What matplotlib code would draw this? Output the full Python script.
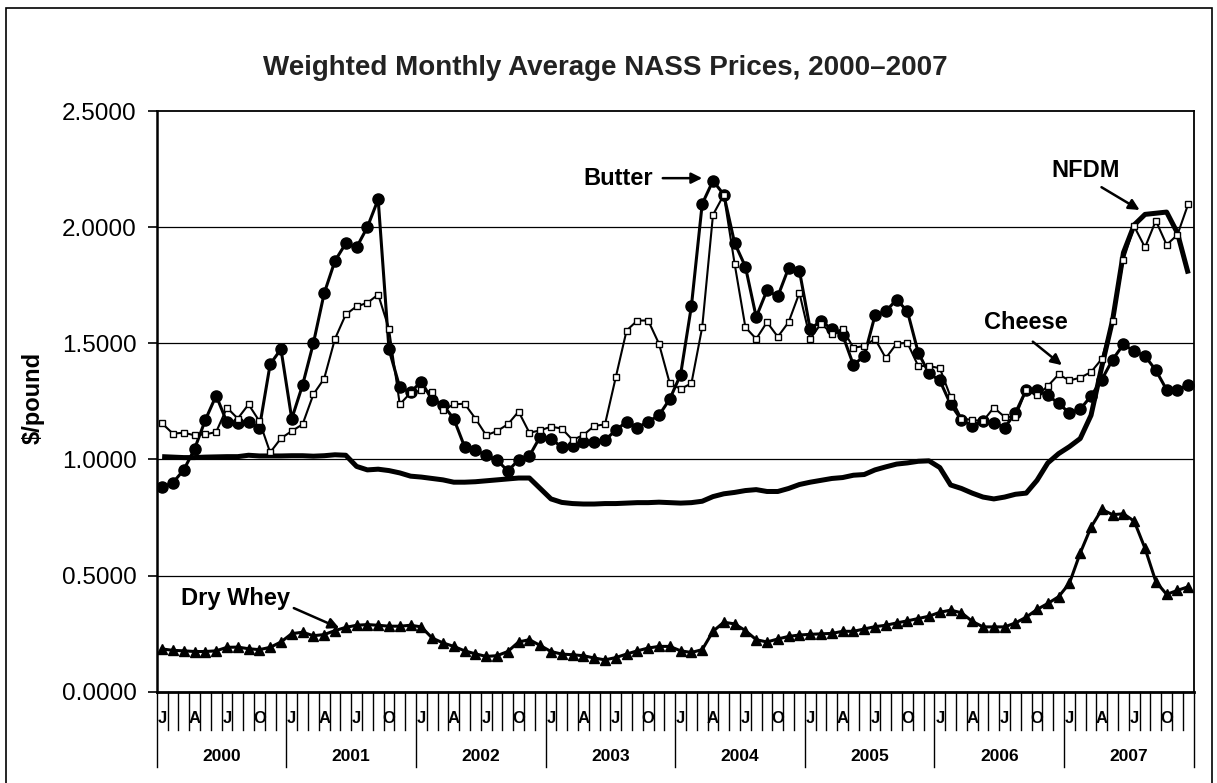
import matplotlib
matplotlib.use("Agg")
import matplotlib.pyplot as plt
from matplotlib.patches import Rectangle
import numpy as np

plt.rcParams['font.family'] = ['Liberation Sans', 'DejaVu Sans']

# monthly data, Jan 2000 - Dec 2007 ($/pound)
years = ['2000', '2001', '2002', '2003', '2004', '2005', '2006', '2007']
month_labels = ['J', '', '', 'A', '', '', 'J', '', '', 'O', '', '']

butter = [0.88, 0.90, 0.955, 1.045, 1.17, 1.275, 1.16, 1.155, 1.16, 1.135, 1.41, 1.475,
          1.175, 1.32, 1.50, 1.715, 1.855, 1.93, 1.913, 2.00, 2.12, 1.475, 1.31, 1.29,
          1.335, 1.255, 1.235, 1.175, 1.055, 1.04, 1.018, 0.998, 0.95, 0.998, 1.015, 1.098,
          1.09, 1.052, 1.058, 1.075, 1.075, 1.084, 1.125, 1.163, 1.137, 1.163, 1.19, 1.26,
          1.365, 1.66, 2.10, 2.20, 2.14, 1.932, 1.83, 1.613, 1.728, 1.702, 1.824, 1.813,
          1.56, 1.598, 1.56, 1.536, 1.407, 1.445, 1.62, 1.638, 1.688, 1.638, 1.46, 1.37,
          1.34, 1.237, 1.17, 1.144, 1.165, 1.158, 1.137, 1.20, 1.30, 1.297, 1.276, 1.241,
          1.20, 1.216, 1.273, 1.344, 1.43, 1.495, 1.466, 1.445, 1.384, 1.30, 1.30, 1.32]

cheese = [1.155, 1.111, 1.115, 1.104, 1.108, 1.118, 1.223, 1.176, 1.237, 1.165, 1.030, 1.091,
          1.122, 1.151, 1.280, 1.348, 1.519, 1.624, 1.659, 1.674, 1.710, 1.562, 1.237, 1.287,
          1.297, 1.292, 1.211, 1.237, 1.240, 1.176, 1.104, 1.122, 1.151, 1.206, 1.115, 1.125,
          1.141, 1.133, 1.084, 1.105, 1.144, 1.151, 1.354, 1.555, 1.598, 1.598, 1.498, 1.327,
          1.304, 1.327, 1.569, 2.053, 2.139, 1.843, 1.569, 1.519, 1.591, 1.528, 1.591, 1.717,
          1.519, 1.585, 1.542, 1.562, 1.481, 1.488, 1.519, 1.436, 1.499, 1.502, 1.402, 1.402,
          1.393, 1.269, 1.176, 1.170, 1.165, 1.223, 1.183, 1.183, 1.30, 1.276, 1.316, 1.366,
          1.340, 1.352, 1.376, 1.433, 1.598, 1.860, 2.003, 1.913, 2.028, 1.924, 1.967, 2.100]

nfdm = [1.012, 1.010, 1.008, 1.008, 1.010, 1.011, 1.012, 1.012, 1.018, 1.015, 1.015, 1.015,
        1.016, 1.016, 1.014, 1.016, 1.020, 1.018, 0.970, 0.955, 0.958, 0.952, 0.942, 0.928,
        0.924, 0.918, 0.912, 0.902, 0.902, 0.904, 0.908, 0.912, 0.916, 0.920, 0.920, 0.875,
        0.830, 0.815, 0.810, 0.808, 0.808, 0.810, 0.810, 0.812, 0.814, 0.814, 0.816, 0.814,
        0.812, 0.814, 0.820, 0.840, 0.852, 0.858, 0.866, 0.870, 0.862, 0.862, 0.875, 0.892,
        0.902, 0.910, 0.918, 0.922, 0.932, 0.935, 0.955, 0.968, 0.980, 0.985, 0.992, 0.994,
        0.965, 0.890, 0.875, 0.855, 0.838, 0.830, 0.838, 0.850, 0.855, 0.910, 0.985, 1.025,
        1.055, 1.090, 1.190, 1.400, 1.600, 1.890, 2.010, 2.055, 2.060, 2.065, 1.975, 1.800]

whey = [0.184, 0.178, 0.176, 0.173, 0.173, 0.176, 0.191, 0.192, 0.185, 0.181, 0.191, 0.214,
        0.250, 0.256, 0.241, 0.246, 0.263, 0.277, 0.286, 0.289, 0.286, 0.282, 0.282, 0.286,
        0.279, 0.231, 0.210, 0.195, 0.176, 0.163, 0.152, 0.155, 0.173, 0.214, 0.224, 0.199,
        0.173, 0.162, 0.159, 0.155, 0.145, 0.137, 0.147, 0.162, 0.176, 0.188, 0.195, 0.195,
        0.176, 0.169, 0.181, 0.260, 0.299, 0.292, 0.263, 0.224, 0.214, 0.227, 0.238, 0.244,
        0.247, 0.249, 0.251, 0.260, 0.260, 0.270, 0.280, 0.286, 0.296, 0.305, 0.315, 0.325,
        0.342, 0.351, 0.340, 0.303, 0.279, 0.279, 0.279, 0.296, 0.321, 0.354, 0.380, 0.409,
        0.467, 0.597, 0.708, 0.785, 0.762, 0.766, 0.734, 0.617, 0.474, 0.419, 0.436, 0.452]

n = len(butter)
x = np.arange(n) + 0.5

fig = plt.figure(figsize=(12.17, 7.83), dpi=100)
ax = fig.add_axes([0.1288, 0.1166, 0.852, 0.7416])

ax.set_xlim(0, n)
ax.set_ylim(0, 2.5)
ax.set_yticks(np.arange(0, 2.51, 0.5))
ax.yaxis.set_major_formatter(matplotlib.ticker.FormatStrFormatter('%.4f'))
ax.tick_params(axis='y', direction='out', length=6.5, width=1.2, pad=8, labelsize=17.5)
ax.set_xticks([])
for y in [0.5, 1.0, 1.5, 2.0]:
    ax.axhline(y, color='black', lw=0.9, zorder=1)
for s in ax.spines.values():
    s.set_linewidth(1.3)
ax.spines['left'].set_linewidth(1.8)
ax.spines['bottom'].set_linewidth(2.0)

# series
ax.plot(x, nfdm, color='black', lw=3.6, solid_capstyle='butt', zorder=3)
ax.plot(x, whey, color='black', lw=2.2, marker='^', ms=6.5, zorder=4)
ax.plot(x, butter, color='black', lw=2.2, marker='o', ms=8, zorder=5)
ax.plot(x, cheese, color='black', lw=1.5, marker='s', ms=4.8, mfc='white', mec='black',
        mew=1.0, zorder=6)

# month / year axis drawn below the plot
trans = ax.get_xaxis_transform()
for i in range(n + 1):
    low = -0.130 if i % 12 == 0 else -0.066
    ax.plot([i, i], [0, low], color='black', lw=1.0, transform=trans, clip_on=False)
for i in range(n):
    lab = month_labels[i % 12]
    if lab:
        ax.text(i + 0.5, -0.047, lab, transform=trans, ha='center', va='center',
                fontsize=12, fontweight='bold')
for k, yr in enumerate(years):
    ax.text(k * 12 + 6, -0.111, yr, transform=trans, ha='center', va='center',
            fontsize=12.5, fontweight='bold')

# labels on the series: text, then an arrow from tail to tip
arrow = dict(arrowstyle='-|>', color='black', lw=1.8, mutation_scale=16, shrinkA=0, shrinkB=0)
labels = [
    ('Butter', (45.9, 2.21), 'right', (46.85, 2.211), (50.5, 2.211)),
    ('NFDM', (86.0, 2.246), 'center', (87.47, 2.172), (91.0, 2.074)),
    ('Cheese', (80.46, 1.589), 'center', (81.11, 1.507), (83.8, 1.406)),
    ('Dry Whey', (7.3, 0.403), 'center', (12.69, 0.360), (16.9, 0.274)),
]
for name, pos, ha, tail, tip in labels:
    ax.text(pos[0], pos[1], name, ha=ha, va='center', fontsize=17, fontweight='bold')
    ax.annotate('', xy=tip, xytext=tail, arrowprops=arrow)

fig.text(605 / 1217, 1 - 68 / 783, 'Weighted Monthly Average NASS Prices, 2000\u20132007',
         ha='center', va='center', fontsize=20, fontweight='bold', color='#222222')
fig.text(33 / 1217, 1 - 398 / 783, '$/pound', rotation=90, ha='center', va='center',
         fontsize=17, fontweight='bold')

# outer frame
fig.add_artist(Rectangle((6 / 1217, -0.01), 1206 / 1217, 1 - 8 / 783 + 0.01,
                         transform=fig.transFigure, fill=False, lw=1.2, ec='black'))

fig.savefig('out.png', dpi=100)
